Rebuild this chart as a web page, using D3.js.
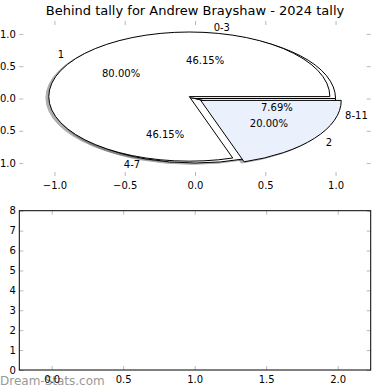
<!DOCTYPE html>
<html>
<head>
<meta charset="utf-8">
<style>
  body { margin: 0; background: white; }
  svg text { font-family: "DejaVu Sans", sans-serif; fill: black; }
  .tk line { stroke: #b8b8b8; stroke-width: 1; }
  .tk path.domain { display: none; }
  .tk text { font-family: "DejaVu Sans", sans-serif; font-size: 10px; fill: black; }
</style>
</head>
<body>
<svg id="chart" width="390" height="390"></svg>
<script src="https://d3js.org/d3.v7.min.js"></script>
<script>
// chart values
var titleText = "Behind tally for Andrew Brayshaw - 2024 tally";
var bandLabels = ["0-3", "4-7", "8-11"];
var bandValues = [6, 6, 1];
var bandColors = ["#ffffff", "#ffffff", "#ffffff"];
var tallyLabels = ["1", "2"];
var tallyValues = [4, 1];
var tallyColors = ["#ffffff", "#eaf0fc"];
var tallyExplode = [0.05, 0.05];
var pieTicks = [-1, -0.5, 0, 0.5, 1];
var lowerXTicks = [0, 0.5, 1, 1.5, 2];
var lowerYTicks = [0, 1, 2, 3, 4, 5, 6, 7, 8];
var watermark = "Dream-Stats.com";

var svg = d3.select("#chart");

// scales for top (pie) axes
var xPie = d3.scaleLinear().domain([-1.25, 1.25]).range([19.3, 370.7]);
var yPie = d3.scaleLinear().domain([-1.2, 1.2]).range([176, 21]);

// scales for lower (empty) axes
var xLow = d3.scaleLinear().domain([-0.2266, 2.2308]).range([19.3, 370.7]);
var yLow = d3.scaleLinear().domain([0, 8]).range([370, 210.7]);

var fmt1 = d3.format(".1f");

// title
svg.append("text")
  .attr("x", 195)
  .attr("y", 14.5)
  .attr("text-anchor", "middle")
  .style("font-size", "13px")
  .text(titleText);

// watermark
svg.append("text")
  .attr("x", 0)
  .attr("y", 385)
  .style("font-size", "12px")
  .style("fill", "#999999")
  .text(watermark);

//Ticks of an axes box (inward, light gray, labels on left and bottom only)
function addTicks(xs, ys, xTicks, yTicks, xFmt, yFmt) {
  var x0 = xs.range()[0], x1 = xs.range()[1];
  var y0 = ys.range()[0], y1 = ys.range()[1];
  svg.append("g").attr("class", "tk")
    .attr("transform", "translate(0," + y0 + ")")
    .call(d3.axisBottom(xs).tickValues(xTicks).tickFormat(xFmt).tickSize(-4).tickPadding(6));
  svg.append("g").attr("class", "tk")
    .attr("transform", "translate(0," + y1 + ")")
    .call(d3.axisTop(xs).tickValues(xTicks).tickFormat("").tickSize(-4));
  svg.append("g").attr("class", "tk")
    .attr("transform", "translate(" + x0 + ",0)")
    .call(d3.axisLeft(ys).tickValues(yTicks).tickFormat(yFmt).tickSize(-4).tickPadding(3.5));
  svg.append("g").attr("class", "tk")
    .attr("transform", "translate(" + x1 + ",0)")
    .call(d3.axisRight(ys).tickValues(yTicks).tickFormat("").tickSize(-4));
}

addTicks(xPie, yPie, pieTicks, pieTicks, fmt1, fmt1);
addTicks(xLow, yLow, lowerXTicks, lowerYTicks, fmt1, d3.format("d"));

// lower axes frame
svg.append("rect")
  .attr("x", xLow.range()[0])
  .attr("y", yLow.range()[1])
  .attr("width", xLow.range()[1] - xLow.range()[0])
  .attr("height", yLow.range()[0] - yLow.range()[1])
  .attr("fill", "none")
  .attr("stroke", "black")
  .attr("stroke-width", 1);

// pies: shadows under everything, then wedges, then texts
var shadowLayer = svg.append("g");
var wedgeLayer = svg.append("g");
var textLayer = svg.append("g");

var kx = xPie(1) - xPie(0);
var ky = yPie(0) - yPie(1);
var arc = d3.arc().innerRadius(0).outerRadius(1);

function darker(c) {
  var rgb = d3.rgb(c);
  return d3.rgb(rgb.r * 0.3, rgb.g * 0.3, rgb.b * 0.3).formatHex();
}

function drawPie(values, labels, colors, explode) {
  var total = d3.sum(values);
  // matplotlib style: start at 3 o'clock, counter clockwise
  var arcs = d3.pie().sort(null)
    .startAngle(Math.PI / 2)
    .endAngle(Math.PI / 2 - 2 * Math.PI)(values);

  arcs.forEach(function(a, i) {
    var thetaMid = Math.PI / 2 - (a.startAngle + a.endAngle) / 2;
    var e = explode ? explode[i] : 0;
    var cx = e * Math.cos(thetaMid);
    var cy = e * Math.sin(thetaMid);

    shadowLayer.append("g")
      .attr("transform", "translate(" + xPie(cx - 0.02) + "," + yPie(cy - 0.02) + ") scale(" + kx + "," + ky + ")")
      .append("path")
      .attr("d", arc(a))
      .attr("fill", darker(colors[i]))
      .attr("stroke", darker(colors[i]))
      .attr("vector-effect", "non-scaling-stroke")
      .attr("opacity", 0.45);

    wedgeLayer.append("g")
      .attr("transform", "translate(" + xPie(cx) + "," + yPie(cy) + ") scale(" + kx + "," + ky + ")")
      .append("path")
      .attr("d", arc(a))
      .attr("fill", colors[i])
      .attr("stroke", "black")
      .attr("stroke-width", 1)
      .attr("vector-effect", "non-scaling-stroke");

    var lx = cx + 1.1 * Math.cos(thetaMid);
    var ly = cy + 1.1 * Math.sin(thetaMid);
    textLayer.append("text")
      .attr("x", xPie(lx))
      .attr("y", yPie(ly))
      .attr("text-anchor", lx > 0 ? "start" : "end")
      .attr("dominant-baseline", "central")
      .style("font-size", "10px")
      .text(labels[i]);

    var px = cx + 0.6 * Math.cos(thetaMid);
    var py = cy + 0.6 * Math.sin(thetaMid);
    textLayer.append("text")
      .attr("x", xPie(px))
      .attr("y", yPie(py))
      .attr("text-anchor", "middle")
      .attr("dominant-baseline", "central")
      .style("font-size", "10px")
      .text((values[i] / total * 100).toFixed(2) + "%");
  });
}

drawPie(bandValues, bandLabels, bandColors, null);
drawPie(tallyValues, tallyLabels, tallyColors, tallyExplode);
</script>
</body>
</html>
